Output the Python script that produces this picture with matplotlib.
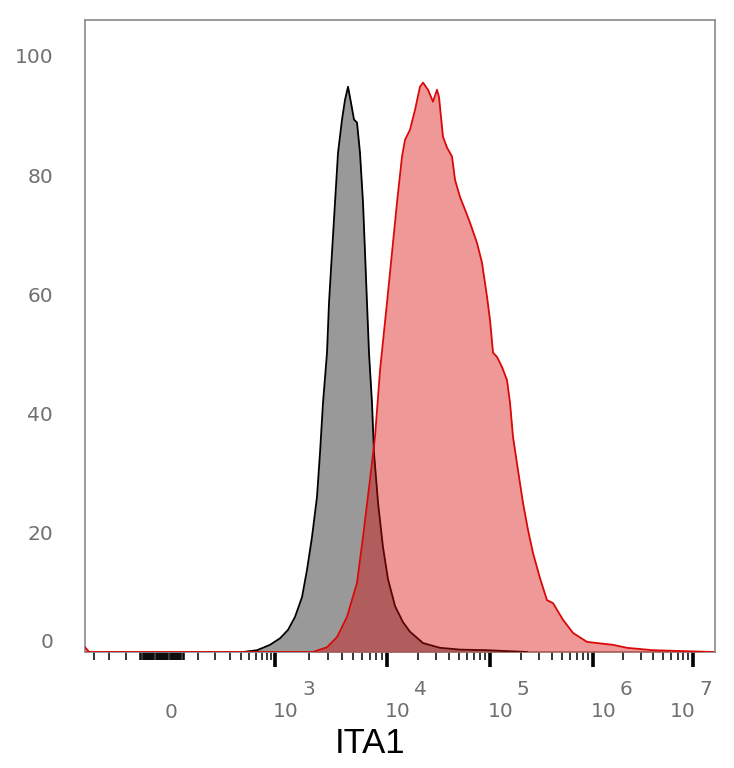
import numpy as np
import matplotlib
matplotlib.use("Agg")
import matplotlib.pyplot as plt
from matplotlib.transforms import ScaledTranslation

# ---------------- data ----------------
# isotype / unstained control (grey)
ctrl_x = [424, 618, 875, 1109, 1306, 1510, 1743, 1932, 2140, 2371, 2523, 2683,
          2914, 3036, 3228, 3434, 3653, 3966, 4218, 4487, 4773, 5075, 5398,
          5741, 6106, 6363, 6626, 6905, 7345, 7655, 8318, 9206, 10230, 11970,
          14300, 16720, 22380, 32730, 51180, 93500, 228600]
ctrl_y = [0.0, 0.3, 1.2, 2.3, 3.7, 5.9, 9.2, 13.8, 19.3, 26.0, 33.4, 41.8,
          50.2, 58.6, 67.0, 75.4, 83.7, 89.3, 92.6, 94.8, 92.1, 89.3, 88.8,
          83.7, 75.4, 67.0, 58.6, 50.2, 41.8, 33.4, 25.0, 17.6, 12.2, 7.7,
          5.0, 3.4, 1.5, 0.7, 0.4, 0.3, 0.0]

# ITA1 stained sample (red)
ita1_x = [-381, -340, 2183, 2914, 3580, 4395, 5398, 6106, 7047, 7816, 8670,
          10000, 11190, 12510, 13990, 14960, 16720, 18700, 20900, 22380, 25010,
          27960, 30580, 31970, 34970, 38250, 42780, 45750, 51180, 57180, 63960,
          74820, 83600, 93500, 100000, 107000, 116900, 130800, 146300, 156400,
          167200, 187000, 209100, 233800, 261500, 305600, 357300, 409000,
          511500, 639500, 874600, 1096000, 1585000, 2188000, 3980000, 16000000]
ita1_y = [0.8, 0.0, 0.0, 0.8, 2.5, 5.9, 11.6, 19.3, 28.9, 36.1, 47.3,
          58.6, 67.0, 75.4, 83.1, 85.9, 87.6, 90.9, 94.8, 95.5, 94.3,
          92.3, 94.3, 93.1, 86.4, 84.6, 83.1, 79.2, 76.3, 74.2, 72.0,
          68.6, 65.3, 59.6, 55.7, 50.2, 49.5, 47.8, 45.6, 41.8,
          36.1, 30.5, 25.0, 20.5, 16.6, 12.4, 8.7, 8.2,
          5.4, 3.2, 1.7, 1.5, 1.2, 0.7, 0.3, 0.0]

y_ticks = [0, 20, 40, 60, 80, 100]
major_exps = [3, 4, 5, 6, 7]
x_label = "ITA1"

# ---------------- biexponential-like axis scale ----------------
_LOGV = np.log10([100, 200, 1e3, 1e4, 1e5, 1e6, 1e7, 1e8])
_P = np.array([36, 53, 113, 225, 328, 431, 531, 631], float)
_LIN = 0.36


def _fwd(x):
    x = np.asarray(x, float)
    v = np.abs(x)
    lv = np.log10(np.maximum(v, 100.0))
    p = np.where(v <= 100, v * _LIN, np.interp(lv, _LOGV, _P))
    return np.sign(x) * p


def _inv(p):
    p = np.asarray(p, float)
    a = np.abs(p)
    v = np.where(a <= 36, a / _LIN, 10 ** np.interp(np.maximum(a, 36), _P, _LOGV))
    return np.sign(p) * v


W, H = 734, 768
fig = plt.figure(figsize=(W / 100, H / 100), dpi=100)
ax = fig.add_axes([85 / W, 1 - 652 / H, 630 / W, 632 / H])
ax.set_xscale("function", functions=(_fwd, _inv))
ax.set_xlim(float(_inv(-77)), float(_inv(553)))
ax.set_ylim(0, 106)

# curves
ax.fill_between(ctrl_x, ctrl_y, 0, color=(0.6, 0.6, 0.6), lw=0, zorder=2)
ax.plot(ctrl_x, ctrl_y, color="black", lw=1.3, zorder=3)
ax.fill_between(ita1_x, ita1_y, 0, color=(215/255, 10/255, 10/255), alpha=0.42,
                lw=0, zorder=4)
ax.plot(ita1_x, ita1_y, color=(0.86, 0.03, 0.03), lw=1.3, zorder=5)

# frame
for s in ax.spines.values():
    s.set_color("#8a8a8a")
    s.set_linewidth(1.2)

# y axis
ax.set_yticks(y_ticks)
ax.set_yticklabels([str(v) for v in y_ticks], fontsize=14.5,
                   color="#707070", family="DejaVu Sans")
ax.tick_params(axis="y", length=0, pad=23)
for lab in ax.get_yticklabels():
    if lab.get_text() == "0":
        lab.set_transform(lab.get_transform() +
                          ScaledTranslation(0, 11 / 100, fig.dpi_scale_trans))

# x ticks
majors = [10.0 ** e for e in major_exps]
minors = [-300, -200, -100]
minors += list(np.arange(-60, 61, 3))
for e in range(2, 7):
    minors += [m * 10.0 ** e for m in range(1 if e == 2 else 2, 10)]
ax.set_xticks(majors)
ax.set_xticks(minors, minor=True)
ax.set_xticklabels([""] * len(majors))
ax.tick_params(axis="x", which="major", direction="out", length=11,
               width=2.6, color="black")
ax.tick_params(axis="x", which="minor", direction="out", length=6,
               width=1.1, color="black")

# x tick labels drawn as "10" + raised exponent
lab_kw = dict(fontsize=14.5, color="#707070", family="DejaVu Sans",
              xycoords=("data", "axes fraction"), textcoords="offset pixels",
              va="baseline")
ax.annotate("0", xy=(0, 0), xytext=(9, -66), ha="center", **lab_kw)
for e, v in zip(major_exps, majors):
    dx = -23 if e == 7 else -2
    ax.annotate("10", xy=(v, 0), xytext=(dx, -65), ha="left", **lab_kw)
    ax.annotate(str(e), xy=(v, 0), xytext=(dx + 29, -43), ha="left", **lab_kw)

fig.text(370 / W, 1 - 753 / H, x_label, ha="center", va="baseline",
         fontsize=25, family="Liberation Sans", color="black")

fig.savefig("out.png", dpi=100)
